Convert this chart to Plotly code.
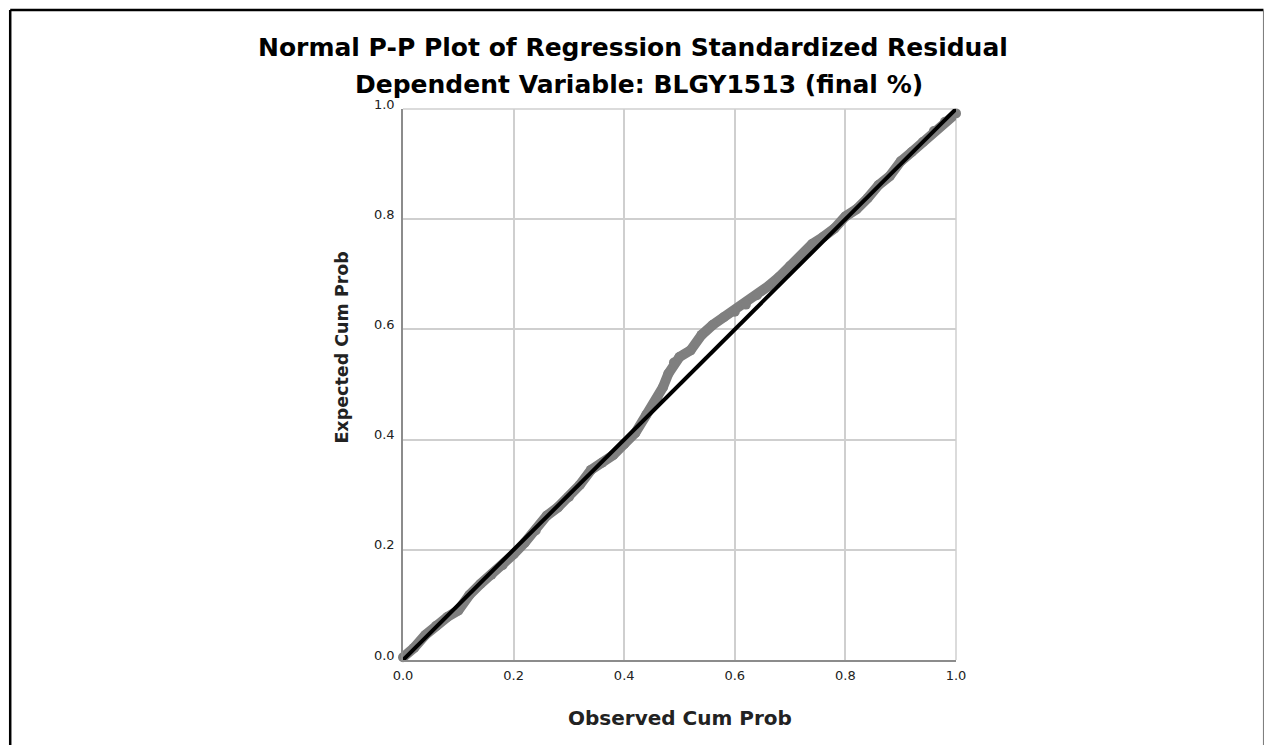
import plotly.graph_objects as go

# Observed vs expected cumulative probabilities of the standardized residuals
observed_cum_prob = [0.00, 0.02, 0.04, 0.06, 0.08, 0.10, 0.12, 0.14, 0.16, 0.18,
                     0.20, 0.22, 0.24, 0.26, 0.28, 0.30, 0.32, 0.34, 0.36, 0.38,
                     0.40, 0.42, 0.44, 0.46, 0.47, 0.48, 0.49, 0.50, 0.52, 0.54,
                     0.56, 0.58, 0.60, 0.62, 0.64, 0.66, 0.68, 0.70, 0.72, 0.74,
                     0.76, 0.78, 0.80, 0.82, 0.84, 0.86, 0.88, 0.90, 0.92, 0.94,
                     0.96, 0.98, 1.00]
expected_cum_prob = [0.005, 0.022, 0.045, 0.062, 0.078, 0.090, 0.118, 0.138, 0.155, 0.172,
                     0.192, 0.213, 0.235, 0.262, 0.277, 0.296, 0.318, 0.345, 0.358, 0.372,
                     0.392, 0.412, 0.445, 0.475, 0.495, 0.520, 0.540, 0.550, 0.562, 0.590,
                     0.608, 0.622, 0.632, 0.645, 0.662, 0.678, 0.695, 0.715, 0.733, 0.755,
                     0.768, 0.783, 0.805, 0.818, 0.838, 0.862, 0.878, 0.905, 0.922, 0.940,
                     0.960, 0.977, 0.992]

# Reference diagonal
ref_x = [0.0, 1.0]
ref_y = [0.0, 1.0]

tick_vals = [0.0, 0.2, 0.4, 0.6, 0.8, 1.0]
tick_text = ["0.0", "0.2", "0.4", "0.6", "0.8", "1.0"]

W, H = 1266, 745
L, R, T, B = 402.5, 956.5, 109, 660

FONT = "DejaVu Sans, Arial"


def px(x):
    return (x - L) / (R - L)


def py(y):
    return (B - y) / (B - T)


fig = go.Figure()
fig.add_trace(go.Scatter(
    x=observed_cum_prob, y=expected_cum_prob, mode="lines+markers",
    line=dict(color="#7f7f7f", width=10),
    marker=dict(color="#7f7f7f", size=10),
    cliponaxis=False, hoverinfo="skip", showlegend=False))
fig.add_trace(go.Scatter(
    x=ref_x, y=ref_y, mode="lines",
    line=dict(color="#000000", width=4),
    cliponaxis=False, hoverinfo="skip", showlegend=False))

axis_common = dict(
    range=[0, 1], tickvals=tick_vals, ticktext=tick_text,
    showgrid=True, gridcolor="#cfcfcf", gridwidth=1.5,
    zeroline=False, showline=True, linecolor="#8c8c8c", linewidth=1.5,
    ticks="", tickfont=dict(family=FONT, size=13, color="#222222"),
    fixedrange=True,
)
fig.update_xaxes(**axis_common, ticklabelstandoff=3)
fig.update_yaxes(**axis_common, ticklabelshift=-5, ticklabelstandoff=4)

shapes = [
    # light frame along top and right of the plot area
    dict(type="line", xref="paper", yref="paper", x0=0, x1=1, y0=1, y1=1,
         line=dict(color="#cfcfcf", width=1.5), layer="below"),
    dict(type="line", xref="paper", yref="paper", x0=1, x1=1, y0=0, y1=1,
         line=dict(color="#cfcfcf", width=1.5), layer="below"),
    # outer page border
    dict(type="line", xref="paper", yref="paper", x0=px(9), x1=px(9), y0=py(10), y1=py(760),
         line=dict(color="#000000", width=2.5)),
    dict(type="line", xref="paper", yref="paper", x0=px(9), x1=px(1264.5), y0=py(10), y1=py(10),
         line=dict(color="#000000", width=2.5)),
    dict(type="line", xref="paper", yref="paper", x0=px(1264.5), x1=px(1264.5), y0=py(10), y1=py(760),
         line=dict(color="#777777", width=1)),
]

title_font = dict(family=FONT, size=25, color="#000000")
annotations = [
    dict(text="<b>Normal P-P Plot of Regression Standardized Residual</b>",
         x=px(633), y=py(47), xref="paper", yref="paper", showarrow=False,
         xanchor="center", yanchor="middle", font=title_font),
    dict(text="<b>Dependent Variable: BLGY1513 (final %)</b>",
         x=px(639), y=py(84), xref="paper", yref="paper", showarrow=False,
         xanchor="center", yanchor="middle", font=title_font),
    dict(text="<b>Observed Cum Prob</b>",
         x=px(680), y=py(718), xref="paper", yref="paper", showarrow=False,
         xanchor="center", yanchor="middle",
         font=dict(family=FONT, size=20, color="#222222")),
    dict(text="<b>Expected Cum Prob</b>",
         x=px(341), y=py(347), xref="paper", yref="paper", showarrow=False,
         xanchor="center", yanchor="middle", textangle=-90,
         font=dict(family=FONT, size=17.5, color="#222222")),
]

fig.update_layout(
    width=W, height=H,
    margin=dict(l=L, r=W - R, t=T, b=H - B, pad=0),
    paper_bgcolor="#ffffff", plot_bgcolor="#ffffff",
    shapes=shapes, annotations=annotations, showlegend=False,
)

fig.write_html("out.html", config={"displayModeBar": False})
